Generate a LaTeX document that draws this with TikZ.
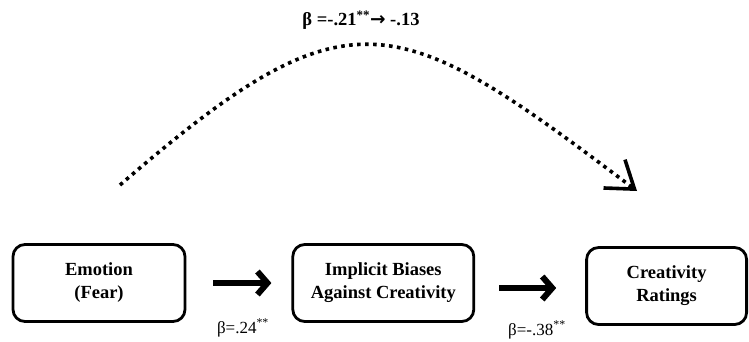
\documentclass[tikz,border=0pt]{standalone}
\usepackage{fontspec}
\setmainfont{Liberation Serif}
\newfontfamily\arrowfont{DejaVu Sans}
\usetikzlibrary{arrows.meta,positioning}

\begin{document}
\begin{tikzpicture}[
    x=1pt, y=-1pt,
    box/.style={draw, line width=2.8pt, rounded corners=12pt, align=center, minimum height=77pt, inner sep=0pt, font=\fontsize{18.5}{23}\selectfont\bfseries},
    link/.style={-{Straight Barb[length=10pt,width=23pt]}, line width=6pt},
    coef/.style={inner sep=0pt, font=\fontsize{17}{19}\selectfont},
    dotlink/.style={line width=3.6pt, dash pattern=on 3.6pt off 4.4pt, -{Straight Barb[angle=70:31pt]}}
]
\useasboundingbox (0,0) rectangle (749,341);
\node[box, minimum width=172pt] (emo) at (99,283) {Emotion\\(Fear)};
\node[box, minimum width=181pt, right=105pt of emo] (bias) {Implicit Biases\\Against Creativity};
\node[box, minimum width=160pt, right=110pt of bias, yshift=-3pt] (rate) {Creativity\\Ratings};
\draw[link] ([xshift=27pt]emo.east) -- ([xshift=-20pt]bias.west);
\draw[link] ([xshift=24pt,yshift=-5pt]bias.east) -- ([xshift=-29pt,yshift=-2pt]rate.west);
\node[coef] (b1) at (243,328) {β=.24\textsuperscript{**}};
\node[coef] (b2) at (537,330) {β=-.38\textsuperscript{**}};
% direct path, over the top
\coordinate (dstart) at (120,185);
\coordinate (dend) at (637,191);
\draw[dotlink] (dstart) .. controls (350,-14) and (395,8) .. (dend);
\node[inner sep=0pt, font=\fontsize{18.5}{20}\selectfont\bfseries] (bc) at (361,20) {β =-.21\textsuperscript{**}{\arrowfont→} -.13};
\end{tikzpicture}
\end{document}
